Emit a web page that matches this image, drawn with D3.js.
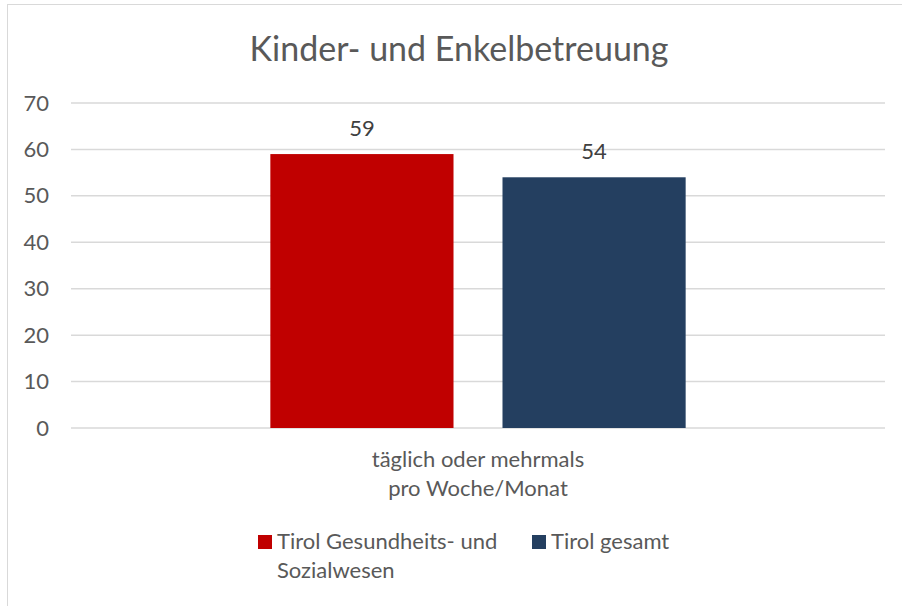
<!DOCTYPE html>
<html lang="de">
<head>
    <meta charset="UTF-8">
    <title>Kinder- und Enkelbetreuung</title>
    <script src="https://cdnjs.cloudflare.com/ajax/libs/d3/7.8.5/d3.min.js"></script>
    <style>
        body { margin: 0; background: #fff; }
        svg { display: block; font-family: Lato, "Open Sans", sans-serif; }
    </style>
</head>
<body>
<div id="chart"></div>
<script>
    const title = "Kinder- und Enkelbetreuung";
    const categories = ["täglich oder mehrmals|pro Woche/Monat"];
    const seriesNames = ["Tirol Gesundheits- und Sozialwesen", "Tirol gesamt"];
    const seriesColors = ["#C00000", "#243F60"];
    const gesundheit = [59];
    const gesamt = [54];
    const yTicks = [0, 10, 20, 30, 40, 50, 60, 70];

    const width = 902, height = 606;
    const textColor = "#595959";
    const fontSize = 22;

    const svg = d3.select("#chart").append("svg")
        .attr("width", width)
        .attr("height", height);

    // chart frame (right/bottom edge fall outside the picture)
    svg.append("rect")
        .attr("x", 7.5).attr("y", 4.5)
        .attr("width", 920).attr("height", 620)
        .attr("fill", "#fff")
        .attr("stroke", "#d9d9d9")
        .attr("stroke-width", 1);

    svg.append("text")
        .attr("x", 459).attr("y", 61)
        .attr("text-anchor", "middle")
        .attr("fill", textColor)
        .attr("font-size", 34)
        .text(title);

    const x0 = d3.scaleBand()
        .domain(categories)
        .range([71, 885])
        .paddingInner(0)
        .paddingOuter(0.48);

    const x1 = d3.scaleBand()
        .domain(seriesNames)
        .range([0, x0.bandwidth()])
        .paddingInner(0.211);

    const y = d3.scaleLinear()
        .domain([0, 70])
        .range([428, 103]);

    // gridlines
    svg.append("g")
        .selectAll("line")
        .data(yTicks)
        .enter().append("line")
        .attr("x1", 71).attr("x2", 885)
        .attr("y1", d => y(d)).attr("y2", d => y(d))
        .attr("stroke", "#d9d9d9")
        .attr("stroke-width", 1.5);

    // y axis labels
    const yAxis = svg.append("g")
        .attr("transform", "translate(49,0)")
        .call(d3.axisLeft(y).tickValues(yTicks).tickSize(0).tickPadding(0));
    yAxis.select(".domain").remove();
    yAxis.selectAll("text")
        .attr("fill", textColor)
        .attr("font-size", fontSize)
        .attr("font-family", "Lato, sans-serif");

    const rows = categories.map((c, i) => ({
        cat: c,
        values: [gesundheit[i], gesamt[i]]
    }));

    const groups = svg.append("g")
        .selectAll("g")
        .data(rows)
        .enter().append("g")
        .attr("transform", d => `translate(${x0(d.cat)},0)`);

    groups.selectAll("rect")
        .data(d => d.values.map((v, j) => ({ name: seriesNames[j], value: v, color: seriesColors[j] })))
        .enter().append("rect")
        .attr("x", d => x1(d.name))
        .attr("width", x1.bandwidth())
        .attr("y", d => y(d.value))
        .attr("height", d => y(0) - y(d.value))
        .attr("fill", d => d.color);

    groups.selectAll("text.val")
        .data(d => d.values.map((v, j) => ({ name: seriesNames[j], value: v })))
        .enter().append("text")
        .attr("class", "val")
        .attr("x", d => x1(d.name) + x1.bandwidth() / 2)
        .attr("y", d => y(d.value) - 18)
        .attr("text-anchor", "middle")
        .attr("fill", "#404040")
        .attr("font-size", fontSize)
        .text(d => d.value);

    // category label (two lines)
    const catLabel = svg.append("g")
        .selectAll("text")
        .data(categories)
        .enter().append("text")
        .attr("x", d => x0(d) + x0.bandwidth() / 2)
        .attr("y", 467)
        .attr("text-anchor", "middle")
        .attr("fill", textColor)
        .attr("font-size", fontSize);
    catLabel.selectAll("tspan")
        .data(d => d.split("|"))
        .enter().append("tspan")
        .attr("x", function() { return this.parentNode.getAttribute("x"); })
        .attr("dy", (d, i) => i === 0 ? 0 : 29)
        .text(d => d);

    // legend
    const legendItems = [
        { lines: ["Tirol Gesundheits- und", "Sozialwesen"], x: 258, color: seriesColors[0] },
        { lines: [seriesNames[1]], x: 532, color: seriesColors[1] }
    ];
    const legend = svg.append("g")
        .selectAll("g")
        .data(legendItems)
        .enter().append("g")
        .attr("transform", d => `translate(${d.x},0)`);
    legend.append("rect")
        .attr("x", 0).attr("y", 535)
        .attr("width", 14).attr("height", 14)
        .attr("fill", d => d.color);
    legend.append("text")
        .attr("fill", textColor)
        .attr("font-size", fontSize)
        .attr("y", 549)
        .selectAll("tspan")
        .data(d => d.lines)
        .enter().append("tspan")
        .attr("x", 19)
        .attr("dy", (d, i) => i === 0 ? 0 : 29)
        .text(d => d);
</script>
</body>
</html>
